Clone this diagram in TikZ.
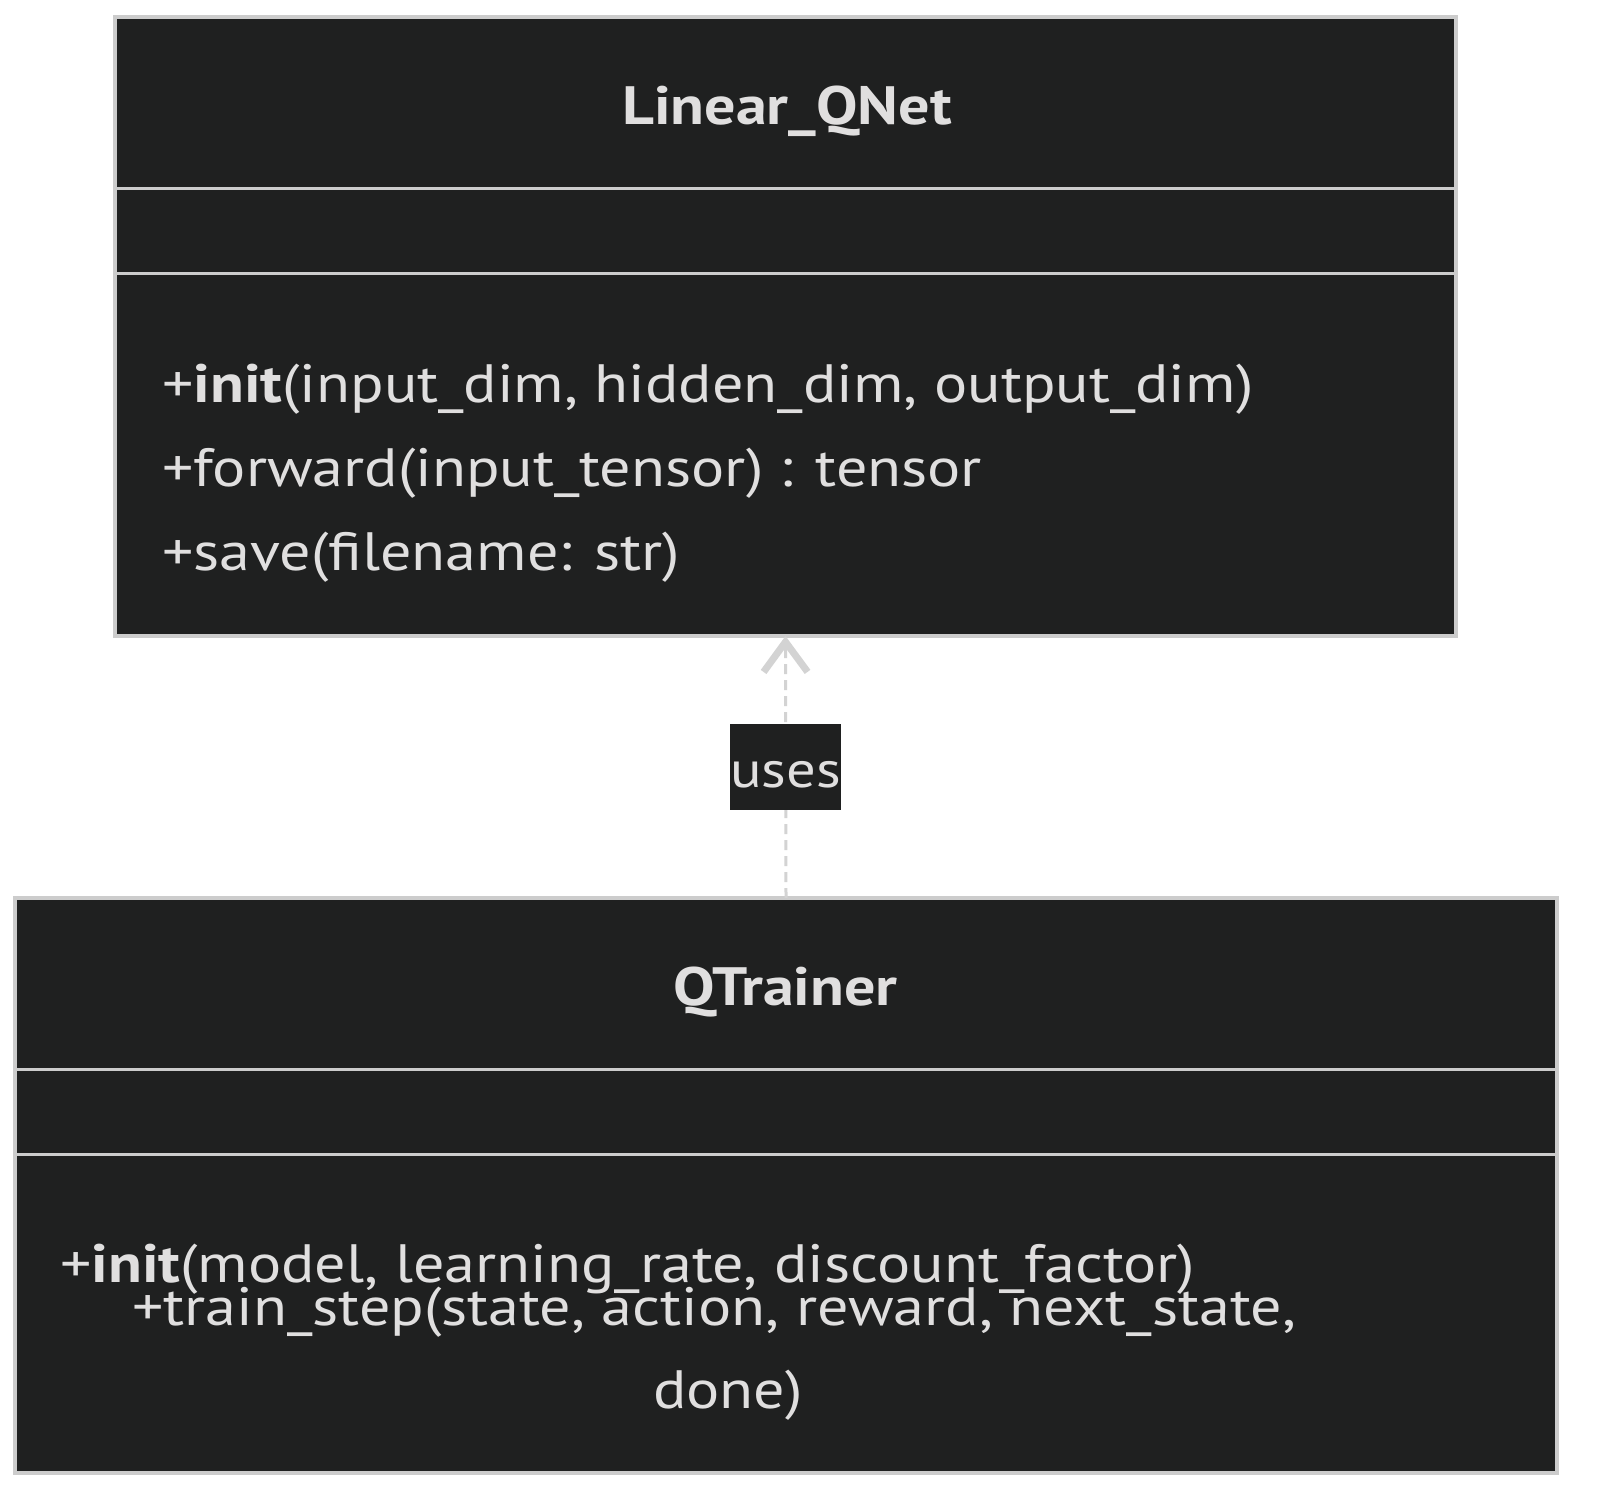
\documentclass[tikz,border=0pt]{standalone}
\usepackage{fontspec}
\setmainfont{PT Sans}[FakeStretch=1.15]
\usetikzlibrary{arrows.meta}
\definecolor{boxfill}{HTML}{1F2020}
\definecolor{boxline}{HTML}{CCCCCC}
\definecolor{txt}{HTML}{E0DFDF}
\definecolor{edge}{HTML}{D3D3D3}
\tikzset{
  classbox/.style={draw=boxline, fill=boxfill, line width=4pt, inner sep=0pt, outer sep=0pt},
  divider/.style={draw=boxline, line width=3pt},
  title/.style={text=txt, font=\fontsize{54}{60}\selectfont\bfseries, inner sep=0pt, anchor=base},
  member/.style={text=txt, font=\fontsize{54}{60}\selectfont, inner sep=0pt, anchor=base west},
  elabel/.style={fill=boxfill, text=txt, font=\fontsize{51}{60}\selectfont, inner sep=0pt, text height=43pt, text depth=3pt, minimum width=106pt, minimum height=86pt},
  dep/.style={draw=edge, line width=3pt, dash pattern=on 10pt off 6pt, -{Straight Barb[length=30pt, width=44pt, line width=7pt]}}
}
\begin{document}
\begin{tikzpicture}[x=1pt,y=-1pt]
\useasboundingbox (0,0) rectangle (1616,1494);
% Linear_QNet
\node[classbox, minimum width=1341pt, minimum height=619pt] (qnet) at (785.5,326.5) {};
\draw[divider] (qnet.west |- 0,188) coordinate (qd1a) -- (qnet.east |- 0,188) coordinate (qd1b);
\draw[divider] (qnet.west |- 0,273) coordinate (qd2a) -- (qnet.east |- 0,273) coordinate (qd2b);
\node[title] (qnettitle) at (787,124) {Linear\_QNet};
\node[member] (qm1) at (162,402) {+\textbf{init}(input\_dim, hidden\_dim, output\_dim)};
\node[member] (qm2) at (162,486) {+forward(input\_tensor) : tensor};
\node[member] (qm3) at (162,570) {+save(filename: str)};
% QTrainer
\node[classbox, minimum width=1542pt, minimum height=575pt] (trainer) at (786,1185.5) {};
\draw[divider] (trainer.west |- 0,1069) coordinate (td1a) -- (trainer.east |- 0,1069) coordinate (td1b);
\draw[divider] (trainer.west |- 0,1154) coordinate (td2a) -- (trainer.east |- 0,1154) coordinate (td2b);
\node[title] (trainertitle) at (785.5,1005) {QTrainer};
\node[member] (tm1) at (60,1282) {+\textbf{init}(model, learning\_rate, discount\_factor)};
\node[member] (tm2) at (132,1325) {+train\_step(state, action, reward, next\_state,};
\node[member, anchor=base] (tm3) at (728,1408) {done)};
% dependency
\draw[dep] (trainer.north) -- node[elabel] (uses) {uses} (qnet.south);
\end{tikzpicture}
\end{document}
